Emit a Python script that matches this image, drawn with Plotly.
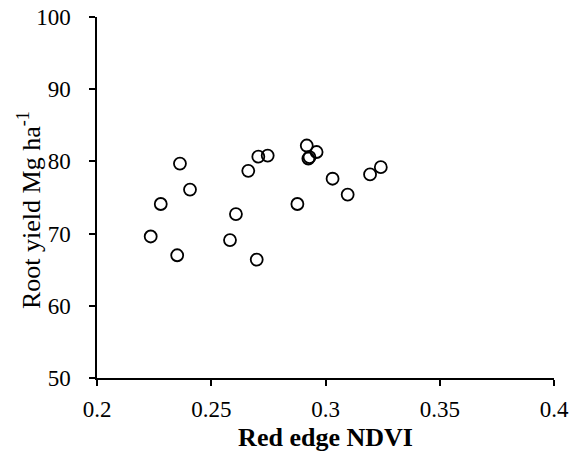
import plotly.graph_objects as go

ndvi = [0.2363, 0.2407, 0.2279, 0.2235, 0.2351, 0.2662, 0.2706, 0.2747, 0.2608, 0.2582,
        0.2699, 0.2918, 0.2961, 0.2925, 0.2930, 0.2877, 0.3031, 0.3097, 0.3195, 0.3242]
root_yield = [79.7, 76.1, 74.1, 69.6, 67.0, 78.7, 80.65, 80.8, 72.7, 69.1,
              66.4, 82.2, 81.3, 80.4, 80.6, 74.1, 77.6, 75.4, 78.2, 79.2]

x_ticks = [0.2, 0.25, 0.3, 0.35, 0.4]
x_ticklabels = ["0.2", "0.25", "0.3", "0.35", "0.4"]
y_ticks = [50, 60, 70, 80, 90, 100]
x_title = "<b>Red edge NDVI</b>"
y_title = "Root yield Mg ha<sup>-1</sup>"

font_family = "Liberation Serif, Times New Roman, serif"

fig = go.Figure(go.Scatter(
    x=ndvi, y=root_yield, mode="markers",
    marker=dict(symbol="circle-open", size=12, color="black", line=dict(width=1.8, color="black")),
    showlegend=False, hoverinfo="skip",
))

fig.update_layout(
    width=581, height=460,
    margin=dict(l=97, r=27, t=17, b=82),
    paper_bgcolor="white", plot_bgcolor="white",
    font=dict(family=font_family, size=23, color="black"),
    xaxis=dict(
        range=[0.2, 0.4], tickvals=x_ticks, ticktext=x_ticklabels,
        showline=True, linecolor="black", linewidth=1.5,
        ticks="outside", ticklen=6, tickwidth=1.5, tickcolor="black",
        ticklabelstandoff=4, ticklabeloverflow="allow",
        showgrid=False, zeroline=False, automargin=False,
        title=dict(text=x_title, font=dict(family=font_family, size=26), standoff=6),
    ),
    yaxis=dict(
        range=[50, 100], tickvals=y_ticks,
        showline=True, linecolor="black", linewidth=1.5,
        ticks="outside", ticklen=6, tickwidth=1.5, tickcolor="black",
        ticklabelstandoff=14, ticklabeloverflow="allow",
        showgrid=False, zeroline=False, automargin=False,
    ),
    annotations=[dict(
        text=y_title, textangle=-90, showarrow=False,
        xref="paper", yref="paper", x=-0.1466, y=0.4654,
        xanchor="center", yanchor="middle",
        font=dict(family=font_family, size=26, color="black"),
    )],
)

fig.write_html(
    "out.html",
    config={"displayModeBar": False},
    post_script="document.body.style.margin='0';document.body.style.padding='0';",
)
